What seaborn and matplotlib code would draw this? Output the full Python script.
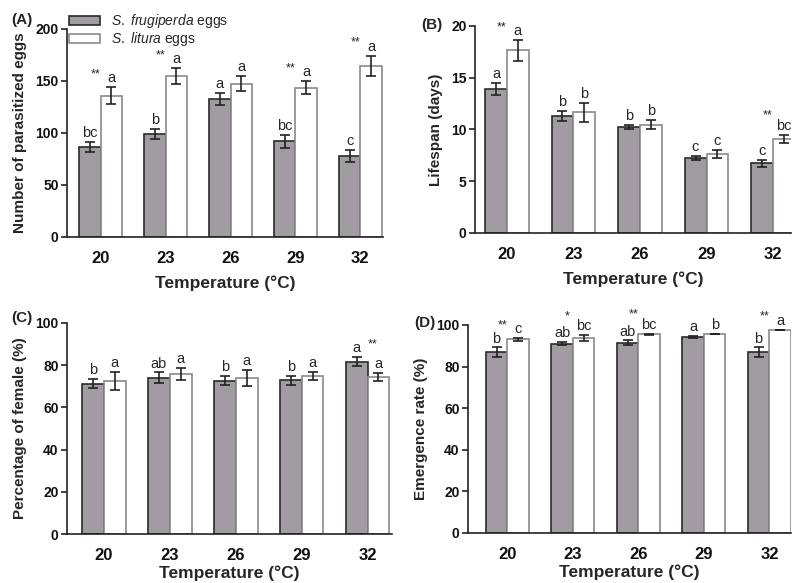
import matplotlib.pyplot as plt
import seaborn as sns
import pandas as pd
import numpy as np

temps = ["20", "23", "26", "29", "32"]
egg_types = ["S. frugiperda eggs", "S. litura eggs"]

# (A) Anzahl parasitierter Eier
parasit_sf = [86.5, 99.0, 133.0, 92.0, 78.0]
parasit_sf_se = [4.8, 4.5, 5.8, 6.2, 6.0]
parasit_sl = [136.0, 155.0, 147.5, 143.5, 164.5]
parasit_sl_se = [8.2, 7.8, 7.2, 6.2, 10.0]
parasit_sf_let = ["bc", "b", "a", "bc", "c"]
parasit_sl_let = ["a", "a", "a", "a", "a"]
parasit_sig = ["**", "**", "", "**", "**"]

# (B) Lebensdauer
life_sf = [13.93, 11.3, 10.27, 7.26, 6.74]
life_sf_se = [0.6, 0.5, 0.2, 0.2, 0.35]
life_sl = [17.65, 11.65, 10.47, 7.64, 9.08]
life_sl_se = [1.03, 0.9, 0.45, 0.35, 0.4]
life_sf_let = ["a", "b", "b", "c", "c"]
life_sl_let = ["a", "b", "b", "c", "bc"]
life_sig = ["**", "", "", "", "**"]

# (C) Weibchenanteil
female_sf = [71.2, 74.1, 72.7, 72.8, 81.7]
female_sf_se = [2.2, 2.5, 2.1, 2.0, 2.1]
female_sl = [72.7, 75.8, 73.9, 74.9, 74.4]
female_sl_se = [4.3, 3.0, 3.7, 2.0, 1.8]
female_sf_let = ["b", "ab", "b", "b", "a"]
female_sl_let = ["a", "a", "a", "a", "a"]
female_sig = ["", "", "", "", "**"]

# (D) Schlupfrate
emerg_sf = [86.9, 91.1, 91.4, 94.3, 86.8]
emerg_sf_se = [2.3, 0.7, 1.2, 0.5, 2.4]
emerg_sl = [93.1, 93.6, 95.5, 95.7, 97.6]
emerg_sl_se = [0.7, 1.5, 0.3, 0.2, 0.2]
emerg_sf_let = ["b", "ab", "ab", "a", "b"]
emerg_sl_let = ["c", "bc", "bc", "b", "a"]
emerg_sig = ["**", "*", "**", "", "**"]

sns.set_theme(style="ticks")
plt.rcParams["font.family"] = ["Liberation Sans", "DejaVu Sans"]
plt.rcParams["mathtext.fontset"] = "custom"
plt.rcParams["mathtext.it"] = "Liberation Sans:italic"
plt.rcParams["mathtext.rm"] = "Liberation Sans"

palette = {egg_types[0]: "#a09ca2", egg_types[1]: "#ffffff"}
edge_colors = ["#2a2a2a", "#8a8a8a"]
axis_col = "#222222"


def draw_panel(ax, sf, sf_se, sl, sl_se, sf_let, sl_let, sig, ylabel, ymax, ystep, xlim, xpad=7):
    df = pd.DataFrame({
        "temp": temps * 2,
        "eggs": [egg_types[0]] * len(temps) + [egg_types[1]] * len(temps),
        "mean": sf + sl,
        "se": sf_se + sl_se,
    })
    sns.barplot(data=df, x="temp", y="mean", hue="eggs", order=temps, hue_order=egg_types,
                palette=palette, width=0.66, errorbar=None, saturation=1, linewidth=1.2,
                legend=False, ax=ax)

    # Fehlerbalken + Buchstaben
    for cont, ec, se_vals, lets in zip(ax.containers, edge_colors, [sf_se, sl_se], [sf_let, sl_let]):
        for bar, se, let in zip(cont, se_vals, lets):
            bar.set_edgecolor(ec)
            xc = bar.get_x() + bar.get_width() / 2
            top = bar.get_height()
            ax.errorbar(xc, top, yerr=se, color=axis_col, lw=1.2, capsize=3.5, capthick=1.2, zorder=3)
            ax.annotate(let, (xc, top + se), xytext=(0, 3.5), textcoords="offset points",
                        ha="center", va="baseline", fontsize=10.5, annotation_clip=False)

    # Signifikanzsterne
    for i, s in enumerate(sig):
        if not s:
            continue
        g = ax.containers[0][i]
        w = ax.containers[1][i]
        gx = g.get_x() + g.get_width() / 2
        wx = w.get_x() + w.get_width() / 2
        gtop = g.get_height() + sf_se[i]
        wtop = w.get_height() + sl_se[i]
        if wtop >= gtop:
            tx, ttop, other, let = wx, wtop, gx, sl_let[i]
        else:
            tx, ttop, other, let = gx, gtop, wx, sf_let[i]
        dy = 3.5 if len(let) == 1 else 8
        ax.annotate(s, (tx + 0.74 * (other - tx), ttop), xytext=(0, 3.5 + dy), textcoords="offset points",
                    ha="center", va="baseline", fontsize=9, annotation_clip=False)

    ax.set_xlim(*xlim)
    ax.set_ylim(0, ymax)
    ax.set_yticks(np.arange(0, ymax + 1, ystep))
    sns.despine(ax=ax)
    for sp in ["left", "bottom"]:
        ax.spines[sp].set_color(axis_col)
        ax.spines[sp].set_linewidth(1.2)
    ax.tick_params(axis="x", length=0, pad=10, labelsize=12)
    ax.tick_params(axis="y", length=4, width=1.2, color=axis_col, pad=2, labelsize=10)
    for lab in ax.get_xticklabels() + ax.get_yticklabels():
        lab.set_fontweight("bold")
        lab.set_color("#111111")
    ax.set_xlabel("Temperature (°C)", fontsize=12.5, fontweight="bold", labelpad=xpad)
    ax.set_ylabel(ylabel, fontsize=11, fontweight="bold", labelpad=6)


fig = plt.figure(figsize=(7.92, 5.83), dpi=100)
W, H = 792, 583


def px_axes(left, top, right, bottom):
    return fig.add_axes([left / W, 1 - bottom / H, (right - left) / W, (bottom - top) / H])


axA = px_axes(67, 29, 383, 237)
axB = px_axes(475, 26, 791, 233)
axC = px_axes(67, 323, 392, 534)
axD = px_axes(468, 325, 791, 533)

draw_panel(axA, parasit_sf, parasit_sf_se, parasit_sl, parasit_sl_se, parasit_sf_let, parasit_sl_let,
           parasit_sig, "Number of parasitized eggs", 200, 50, (-0.52, 4.35))
draw_panel(axB, life_sf, life_sf_se, life_sl, life_sl_se, life_sf_let, life_sl_let,
           life_sig, "Lifespan (days)", 20, 5, (-0.48, 4.27))
draw_panel(axC, female_sf, female_sf_se, female_sl, female_sl_se, female_sf_let, female_sl_let,
           female_sig, "Percentage of female (%)", 100, 20, (-0.56, 4.37), xpad=1.5)
draw_panel(axD, emerg_sf, emerg_sf_se, emerg_sl, emerg_sl_se, emerg_sf_let, emerg_sl_let,
           emerg_sig, "Emergence rate (%)", 100, 20, (-0.6, 4.33), xpad=1.5)

# Panelbuchstaben
for lab, x, y in [("(A)", 11, 20), ("(B)", 421, 25), ("(C)", 11, 318), ("(D)", 414, 323)]:
    fig.text(x / W, 1 - y / H, lab, fontsize=11, fontweight="bold", va="center", ha="left")

# Legende
handles = [plt.Rectangle((0, 0), 1, 1, facecolor=palette[egg_types[0]], edgecolor=edge_colors[0], lw=1.2),
           plt.Rectangle((0, 0), 1, 1, facecolor=palette[egg_types[1]], edgecolor=edge_colors[1], lw=1.2)]
labels = [r"$\it{S.\ frugiperda}$ eggs", r"$\it{S.\ litura}$ eggs"]
fig.legend(handles, labels, loc="upper left", bbox_to_anchor=(69 / W, 1 - 12 / H), frameon=False,
           fontsize=10, handlelength=2.2, handleheight=0.6, labelspacing=0.0,
           handletextpad=0.8, borderpad=0, borderaxespad=0)

fig.savefig("out.png", dpi=100)
